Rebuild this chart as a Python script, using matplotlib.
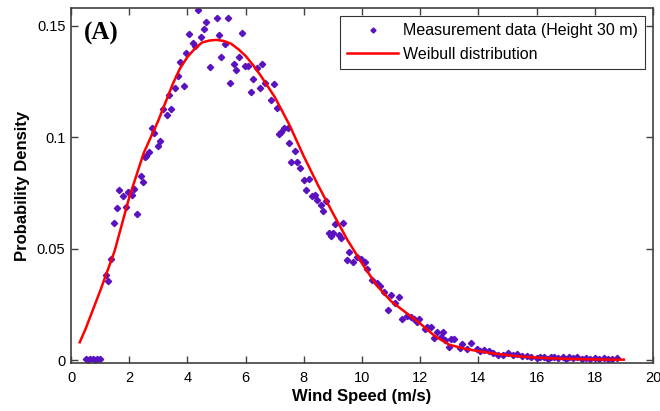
from __future__ import annotations

import matplotlib
import matplotlib.pyplot as plt

matplotlib.use("Agg")

MEAS_SPEED = [
    0.50, 0.58, 0.66, 0.74, 0.82, 0.90, 0.98, 1.19, 1.28, 1.36, 1.49, 1.58, 1.66, 1.79, 1.89, 1.97,
    2.09, 2.18, 2.27, 2.39, 2.47, 2.53, 2.58, 2.69, 2.78, 2.84, 2.99, 3.07, 3.16, 3.29, 3.38, 3.45,
    3.58, 3.67, 3.75, 3.88, 3.96, 4.05, 4.19, 4.25, 4.35, 4.47, 4.58, 4.65, 4.78, 5.00, 5.07, 5.17,
    5.28, 5.38, 5.47, 5.59, 5.68, 5.77, 5.89, 5.99, 6.08, 6.19, 6.26, 6.38, 6.49, 6.57, 6.67, 6.87,
    6.97, 7.09, 7.16, 7.22, 7.32, 7.46, 7.50, 7.56, 7.69, 7.78, 7.87, 8.00, 8.08, 8.17, 8.29, 8.38,
    8.46, 8.60, 8.67, 8.77, 8.87, 8.94, 8.99, 9.07, 9.20, 9.27, 9.36, 9.50, 9.57, 9.68, 9.83, 9.97,
    10.11, 10.18, 10.34, 10.50, 10.62, 10.76, 10.90, 10.99, 11.13, 11.28, 11.39, 11.54, 11.68, 11.79,
    11.88, 11.97, 12.18, 12.24, 12.37, 12.47, 12.56, 12.70, 12.79, 12.86, 12.98, 13.07, 13.17, 13.37,
    13.45, 13.60, 13.76, 13.94, 14.05, 14.20, 14.37, 14.49, 14.68, 14.86, 15.03, 15.20, 15.34, 15.49,
    15.66, 15.82, 16.00, 16.10, 16.25, 16.40, 16.50, 16.60, 16.75, 16.90, 17.00, 17.10, 17.25, 17.40,
    17.55, 17.70, 17.85, 18.00, 18.15, 18.30, 18.45, 18.60, 18.75,
]
MEAS_DENSITY = [
    0.0003, 0.0002, 0.0004, 0.0003, 0.0002, 0.0004, 0.0005, 0.0382, 0.0353, 0.0454, 0.0613, 0.0681, 0.0765, 0.0738, 0.0686, 0.0754,
    0.0741, 0.0769, 0.0654, 0.0828, 0.0798, 0.0913, 0.0916, 0.0935, 0.1042, 0.1019, 0.0961, 0.0983, 0.1125, 0.1101, 0.1191, 0.1125,
    0.1219, 0.1273, 0.1338, 0.1230, 0.1380, 0.1462, 0.1422, 0.1408, 0.1569, 0.1449, 0.1484, 0.1516, 0.1316, 0.1536, 0.1458, 0.1361,
    0.1420, 0.1536, 0.1245, 0.1329, 0.1304, 0.1361, 0.1468, 0.1322, 0.1322, 0.1203, 0.1260, 0.1309, 0.1219, 0.1329, 0.1245, 0.1169,
    0.1238, 0.1130, 0.1015, 0.1025, 0.1040, 0.1043, 0.0973, 0.0889, 0.0938, 0.0889, 0.0864, 0.0808, 0.0763, 0.0814, 0.0735, 0.0741,
    0.0718, 0.0697, 0.0669, 0.0714, 0.0572, 0.0557, 0.0569, 0.0612, 0.0563, 0.0548, 0.0617, 0.0449, 0.0484, 0.0440, 0.0461, 0.0452,
    0.0438, 0.0407, 0.0359, 0.0344, 0.0332, 0.0307, 0.0225, 0.0293, 0.0255, 0.0284, 0.0184, 0.0200, 0.0194, 0.0183,
    0.0172, 0.0184, 0.0138, 0.0147, 0.0147, 0.0100, 0.0127, 0.0105, 0.0124, 0.0088, 0.0060, 0.0096, 0.0096, 0.0055,
    0.0073, 0.0051, 0.0075, 0.0049, 0.0040, 0.0046, 0.0039, 0.0033, 0.0022, 0.0024, 0.0031, 0.0021, 0.0027, 0.0018,
    0.0018, 0.0014, 0.0010, 0.0016, 0.0012, 0.0007, 0.0013, 0.0015, 0.0010, 0.0014, 0.0004, 0.0012, 0.0008, 0.0012,
    0.0006, 0.0011, 0.0003, 0.0009, 0.0004, 0.0008, 0.0003, 0.0007, 0.0010,
]

# fitted Weibull curve, sampled from the figure
FIT_SPEED = [
    0.3, 0.5, 1.0, 1.5, 2.0, 2.5, 3.0, 3.5, 3.75, 4.0, 4.25, 4.5, 4.75, 5.0, 5.25, 5.5, 5.75, 6.0, 6.25,
    6.5, 7.0, 7.5, 8.0, 8.5, 9.0, 9.5, 10.0, 10.5, 11.0, 11.5, 12.0, 12.5, 13.0, 13.5, 14.0, 14.5, 15.0,
    15.5, 16.0, 16.5, 17.0, 17.5, 18.0, 18.5, 19.0,
]
FIT_DENSITY = [
    0.0080, 0.0140, 0.0310, 0.0490, 0.0730, 0.0930, 0.1075, 0.1240, 0.1310, 0.1360, 0.1397, 0.1425, 0.1434,
    0.1437, 0.1432, 0.1420, 0.1395, 0.1365, 0.1325, 0.1280, 0.1181, 0.1057, 0.0914, 0.0782, 0.0659, 0.0539,
    0.0434, 0.0336, 0.0264, 0.0214, 0.0164, 0.0108, 0.0069, 0.0052, 0.0040, 0.0030, 0.0022, 0.0016, 0.0011,
    0.0008, 0.0006, 0.0004, 0.0003, 0.0002, 0.0002,
]

X_TICKS = [0, 2, 4, 6, 8, 10, 12, 14, 16, 18, 20]
Y_TICKS = [0, 0.05, 0.1, 0.15]
Y_TICK_LABELS = ["0", "0.05", "0.1", "0.15"]

plt.rcParams["font.family"] = ["Liberation Sans", "DejaVu Sans"]


def main() -> None:
    fig = plt.figure(figsize=(6.6, 4.11), dpi=100)
    ax = fig.add_axes([0.1076, 0.1168, 0.8818, 0.8637])

    ax.plot(MEAS_SPEED, MEAS_DENSITY, linestyle="none", marker="D", markersize=3.2,
            color="#5a12c0", label="Measurement data (Height 30 m)")
    ax.plot(FIT_SPEED, FIT_DENSITY, color="#ff0000", linewidth=1.8, label="Weibull distribution")

    ax.set_xlim(0, 20)
    ax.set_ylim(-0.0013, 0.158)
    ax.set_xticks(X_TICKS)
    ax.set_yticks(Y_TICKS)
    ax.set_yticklabels(Y_TICK_LABELS)
    ax.tick_params(direction="in", top=True, right=True, length=5, width=1, color="#404040",
                   labelsize=10.5)
    ax.tick_params(axis="x", pad=6)
    ax.tick_params(axis="y", pad=4)
    for spine in ax.spines.values():
        spine.set_color("#404040")
        spine.set_linewidth(1.2)

    ax.set_xlabel("Wind Speed (m/s)", fontsize=12, fontweight="bold", labelpad=3)
    ax.set_ylabel("Probability Density", fontsize=12, fontweight="bold", labelpad=5)

    ax.text(0.022, 0.928, "(A)", transform=ax.transAxes, fontsize=18, fontweight="bold",
            family=["Liberation Serif", "DejaVu Serif"], va="center", ha="left")

    leg = ax.legend(loc="upper right", fontsize=11.5, frameon=True, fancybox=False,
                    borderaxespad=0.5, handlelength=3.2, handletextpad=0.3, borderpad=0.45,
                    labelspacing=0.55, markerscale=0.8)
    leg.get_frame().set_edgecolor("black")
    leg.get_frame().set_linewidth(0.8)

    fig.savefig("out.png", dpi=100)
    plt.close(fig)


if __name__ == "__main__":
    main()
